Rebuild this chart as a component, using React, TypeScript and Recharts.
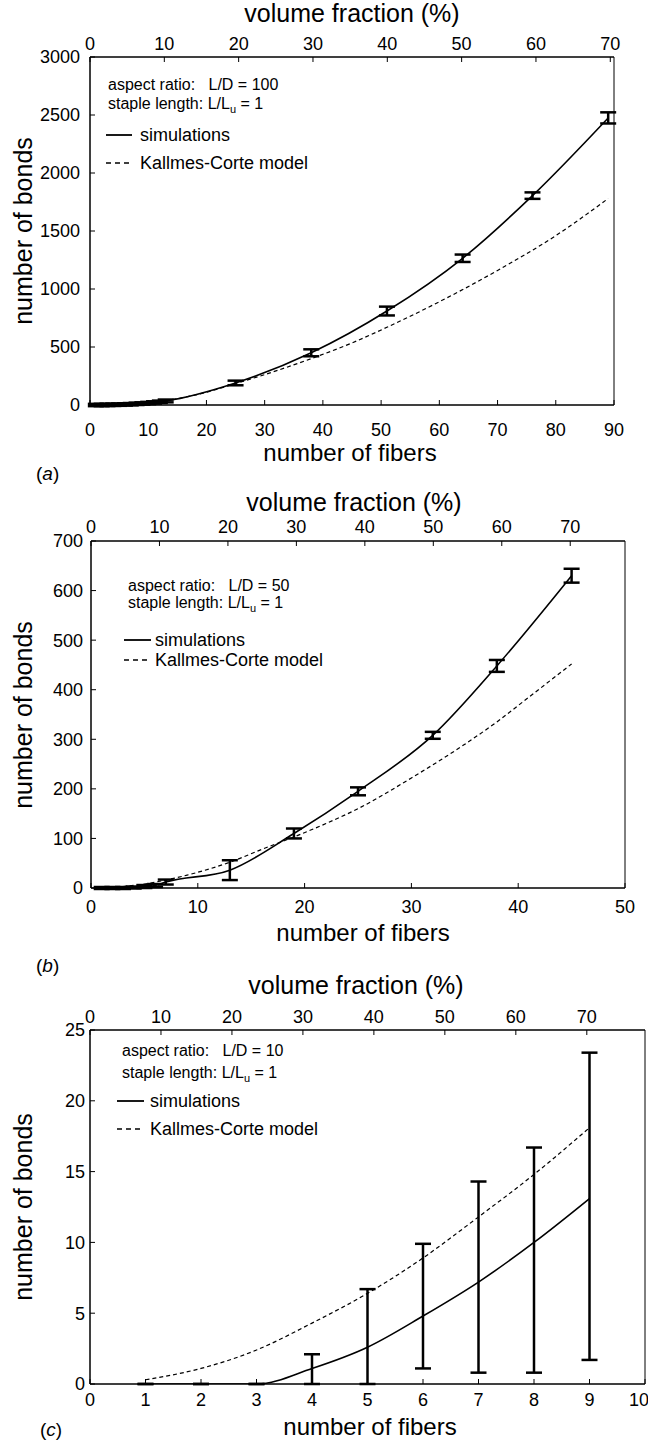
import React from 'react';
import {
  ComposedChart,
  Line,
  XAxis,
  YAxis,
  ErrorBar,
  ReferenceArea
} from 'recharts';

const FONT = '"Liberation Sans", Arial, Helvetica, sans-serif';

// panel (a): L/D = 100
const fibersA = [1, 2, 3, 4, 5, 6, 7, 8, 9, 10, 11, 12, 13, 25, 38, 51, 64, 76, 89];
const bondsA = [0, 0, 1, 2, 3, 5, 7, 10, 13, 17, 22, 28, 35, 190, 450, 810, 1265, 1805, 2475];
const errA = [10, 10, 10, 10, 10, 10, 10, 10, 10, 10, 10, 10, 12, 20, 30, 38, 32, 28, 48];
const kcFibersA = [1, 5, 10, 15, 20, 25, 30, 38, 45, 51, 60, 70, 80, 89];
const kcBondsA = [0, 5, 22, 55, 110, 185, 262, 400, 535, 670, 890, 1160, 1460, 1780];

// panel (b): L/D = 50
const fibersB = [1, 2, 3, 4, 5, 6, 7, 13, 19, 25, 32, 38, 45];
const bondsB = [0, 0, 0, 1, 3, 5, 12, 36, 110, 195, 308, 448, 630];
const errB = [2, 2, 2, 2, 3, 3, 5, 20, 10, 8, 7, 12, 14];
const kcFibersB = [1, 3, 5, 7, 9, 13, 16, 19, 22, 25, 30, 35, 38, 41, 45];
const kcBondsB = [0.5, 3, 8, 16, 26, 52, 78, 103, 130, 160, 222, 290, 335, 385, 452];

// panel (c): L/D = 10
const fibersC = [1, 2, 3, 4, 5, 6, 7, 8, 9];
const bondsC = [0, 0, 0, 1.1, 2.6, 4.8, 7.2, 10.0, 13.1];
const lowC = [0, 0, 0, 0, 0, 1.1, 0.8, 0.8, 1.7];
const highC = [0, 0, 0, 2.1, 6.7, 9.9, 14.3, 16.7, 23.4];
const kcFibersC = [1, 2, 3, 4, 5, 6, 7, 8, 9];
const kcBondsC = [0.3, 1.1, 2.4, 4.3, 6.4, 8.9, 11.8, 14.8, 18.1];

const volTicks = [0, 10, 20, 30, 40, 50, 60, 70];
const xTicksA = [0, 10, 20, 30, 40, 50, 60, 70, 80, 90];
const yTicksA = [0, 500, 1000, 1500, 2000, 2500, 3000];
const xTicksB = [0, 10, 20, 30, 40, 50];
const yTicksB = [0, 100, 200, 300, 400, 500, 600, 700];
const xTicksC = [0, 1, 2, 3, 4, 5, 6, 7, 8, 9, 10];
const yTicksC = [0, 5, 10, 15, 20, 25];

const simA = fibersA.map((n, i) => ({ n, bonds: bondsA[i], err: errA[i] }));
const kcA = kcFibersA.map((n, i) => ({ n, bonds: kcBondsA[i] }));
const simB = fibersB.map((n, i) => ({ n, bonds: bondsB[i], err: errB[i] }));
const kcB = kcFibersB.map((n, i) => ({ n, bonds: kcBondsB[i] }));
const simC = fibersC.map((n, i) => ({
  n,
  bonds: bondsC[i],
  err: [bondsC[i] - lowC[i], highC[i] - bondsC[i]]
}));
const kcC = kcFibersC.map((n, i) => ({ n, bonds: kcBondsC[i] }));
// only used so the top axis (volume fraction) gets drawn
const volRows = volTicks.map((v) => ({ vol: v, none: null }));

const panels = [
  {
    letter: 'a', ratio: '100',
    chartTop: 0, height: 480,
    L: 90, R: 614, T: 57, B: 405,
    xMax: 90, xTicks: xTicksA, yMax: 3000, yTicks: yTicksA, volMax: 70.5,
    sim: simA, kc: kcA,
    botMargin: 23, topMargin: 12, leftMargin: 15,
    note: { x: 108, y: 85, y2: 104 },
    legend: { x: 106, len: 26, tx: 140, y1: 135, y2: 163 },
    volTitle: { x: 352, y: 13 }, fibTitle: { x: 350, y: 453 }, tag: { x: 36, y: 473 }
  },
  {
    letter: 'b', ratio: '50',
    chartTop: 480, height: 490,
    L: 91, R: 625, T: 541, B: 888,
    xMax: 50, xTicks: xTicksB, yMax: 700, yTicks: yTicksB, volMax: 78,
    sim: simB, kc: kcB,
    botMargin: 17, topMargin: 13, leftMargin: 13,
    note: { x: 128, y: 586, y2: 603 },
    legend: { x: 124, len: 27, tx: 155, y1: 640, y2: 660 },
    volTitle: { x: 354, y: 502 }, fibTitle: { x: 363, y: 933 }, tag: { x: 36, y: 965 }
  },
  {
    letter: 'c', ratio: '10',
    chartTop: 970, height: 471,
    L: 90, R: 645, T: 1030, B: 1384,
    xMax: 10, xTicks: xTicksC, yMax: 25, yTicks: yTicksC, volMax: 78.2,
    sim: simC, kc: kcC,
    botMargin: 14, topMargin: 12, leftMargin: 10,
    note: { x: 122, y: 1051, y2: 1073 },
    legend: { x: 117, len: 27, tx: 150, y1: 1101, y2: 1129 },
    volTitle: { x: 356, y: 985 }, fibTitle: { x: 370, y: 1427 }, tag: { x: 40, y: 1429 }
  }
];

const tickStyle = { fill: '#000', fontSize: 18, fontFamily: FONT };

const Txt: React.FC<{ x: number; y: number; size: number; center?: boolean; rotate?: boolean; children: React.ReactNode }> = ({ x, y, size, center, rotate, children }) => (
  <div
    style={{
      position: 'absolute',
      left: x,
      top: y,
      fontSize: size,
      lineHeight: 1,
      whiteSpace: 'pre',
      color: '#000',
      transform: `translate(${center || rotate ? '-50%' : '0'}, -50%)${rotate ? ' rotate(-90deg)' : ''}`
    }}
  >
    {children}
  </div>
);

const LegendRow: React.FC<{ x: number; len: number; tx: number; y: number; dashed?: boolean; label: string }> = ({ x, len, tx, y, dashed, label }) => (
  <>
    <svg style={{ position: 'absolute', left: x, top: y - 2 }} width={len} height={4}>
      <line x1={0} y1={2} x2={len} y2={2} stroke="#000" strokeWidth={dashed ? 1.3 : 1.8} strokeDasharray={dashed ? '5 4' : undefined} />
    </svg>
    <Txt x={tx} y={y} size={18}>{label}</Txt>
  </>
);

const Panel: React.FC<{ p: typeof panels[number] }> = ({ p }) => {
  const yW = 60;
  const topH = 30;
  const botH = 40;
  const margin = {
    top: p.T - p.chartTop - topH,
    left: p.L - yW,
    right: 648 - p.R,
    bottom: p.chartTop + p.height - p.B - botH
  };
  const off = p.chartTop;
  return (
    <div style={{ position: 'absolute', left: 0, top: off, width: 648, height: p.height, fontFamily: FONT }}>
      <ComposedChart width={648} height={p.height} margin={margin}>
        <XAxis
          xAxisId="bottom"
          type="number"
          dataKey="n"
          domain={[0, p.xMax]}
          ticks={p.xTicks}
          height={botH}
          tickSize={-5}
          tickMargin={p.botMargin}
          tick={tickStyle}
          axisLine={{ stroke: '#000' }}
          tickLine={{ stroke: '#000' }}
          allowDataOverflow
        />
        <XAxis
          xAxisId="top"
          orientation="top"
          type="number"
          dataKey="vol"
          domain={[0, p.volMax]}
          ticks={volTicks}
          height={topH}
          tickSize={-5}
          tickMargin={p.topMargin}
          tick={tickStyle}
          axisLine={{ stroke: '#000' }}
          tickLine={{ stroke: '#000' }}
          allowDataOverflow
        />
        <YAxis
          yAxisId="left"
          type="number"
          domain={[0, p.yMax]}
          ticks={p.yTicks}
          width={yW}
          tickSize={-5}
          tickMargin={p.leftMargin}
          tick={tickStyle}
          axisLine={{ stroke: '#000' }}
          tickLine={{ stroke: '#000' }}
          allowDataOverflow
        />
        <ReferenceArea
          xAxisId="bottom"
          yAxisId="left"
          x1={0}
          x2={p.xMax}
          y1={0}
          y2={p.yMax}
          fill="none"
          stroke="#000"
          strokeWidth={1}
          ifOverflow="visible"
        />
        <Line
          xAxisId="top"
          yAxisId="left"
          data={volRows}
          dataKey="none"
          stroke="none"
          dot={false}
          activeDot={false}
          legendType="none"
          isAnimationActive={false}
        />
        <Line
          xAxisId="bottom"
          yAxisId="left"
          data={p.kc}
          dataKey="bonds"
          type="monotone"
          stroke="#000"
          strokeWidth={1.2}
          strokeDasharray="4 3"
          dot={false}
          isAnimationActive={false}
        />
        <Line
          xAxisId="bottom"
          yAxisId="left"
          data={p.sim}
          dataKey="bonds"
          type="monotone"
          stroke="#000"
          strokeWidth={1.6}
          dot={false}
          isAnimationActive={false}
        >
          <ErrorBar dataKey="err" direction="y" width={8} stroke="#000" strokeWidth={2.5} isAnimationActive={false} />
        </Line>
      </ComposedChart>

      <Txt x={p.volTitle.x} y={p.volTitle.y - off} size={25} center>volume fraction (%)</Txt>
      <Txt x={p.fibTitle.x} y={p.fibTitle.y - off} size={24} center>number of fibers</Txt>
      <Txt x={23} y={(p.T + p.B) / 2 - off} size={25} rotate>number of bonds</Txt>
      <Txt x={p.tag.x} y={p.tag.y - off} size={19}>(<i>{p.letter}</i>)</Txt>

      <Txt x={p.note.x} y={p.note.y - off} size={16}>{`aspect ratio:   L/D = ${p.ratio}`}</Txt>
      <Txt x={p.note.x} y={p.note.y2 - off} size={16}>
        staple length: L/L<span style={{ fontSize: 11, position: 'relative', top: 4 }}>u</span> = 1
      </Txt>
      <LegendRow x={p.legend.x} len={p.legend.len} tx={p.legend.tx} y={p.legend.y1 - off} label="simulations" />
      <LegendRow x={p.legend.x} len={p.legend.len} tx={p.legend.tx} y={p.legend.y2 - off} dashed label="Kallmes-Corte model" />
    </div>
  );
};

export default function App() {
  return (
    <div style={{ position: 'absolute', left: 0, top: 0, width: 648, height: 1441, background: '#fff', fontFamily: FONT }}>
      {panels.map((p) => (
        <Panel key={p.letter} p={p} />
      ))}
    </div>
  );
}
